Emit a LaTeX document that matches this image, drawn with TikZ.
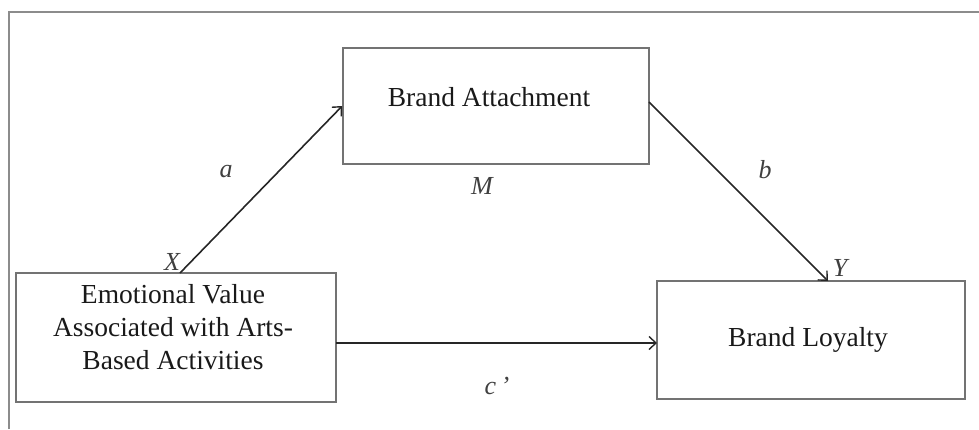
\documentclass[tikz,border=0pt]{standalone}
\usepackage{fontspec}
\setmainfont{Liberation Serif}
\usetikzlibrary{arrows.meta}
\begin{document}
\begin{tikzpicture}[x=1pt,y=-1pt,
  box/.style={draw=black!55,line width=1.6pt,inner sep=0pt},
  boxtext/.style={inner sep=0pt,align=center,text=black!90,
    font=\fontsize{27.5}{33}\selectfont},
  conn/.style={draw=black!85,line width=1.6pt,-{Straight Barb[length=7pt,width=13pt,line width=1.4pt]}},
  lab/.style={font=\fontsize{26}{30}\selectfont\itshape,text=black!75,inner sep=0pt}]
\useasboundingbox (0,0) rectangle (979,429);
\draw[black!45,line width=2pt] (9,429) -- (9,12) -- (979,12);
\node[box,minimum width=306pt,minimum height=116pt] (ba) at (496,106) {};
\node[boxtext] (bat) at (489,97) {Brand Attachment};
\node[box,minimum width=320pt,minimum height=129pt] (ev) at (176,337.5) {};
\node[boxtext] (evt) at (173,327) {Emotional Value\\Associated with Arts-\\Based Activities};
\node[box,minimum width=308pt,minimum height=118pt] (bl) at (811,340) {};
\node[boxtext] (blt) at (808,340) {Brand Loyalty};
\coordinate (xa) at (180,273);
\coordinate (yb) at (828,281);
\coordinate (bs) at (649,102);
\coordinate (cs) at (336,343);
\coordinate (ce) at (657,343);
\draw[conn] (xa) -- (ba.west);
\draw[conn] (bs) -- (yb);
\draw[conn] (cs) -- (ce);
\node[lab] (la) at (226,172) {a};
\node[lab] (lx) at (172,262) {X};
\node[lab] (lm) at (482,186) {M};
\node[lab] (lb) at (765,170) {b};
\node[lab] (ly) at (840,268) {Y};
\node[lab] (lc) at (497,386) {c\,’};
\end{tikzpicture}
\end{document}
